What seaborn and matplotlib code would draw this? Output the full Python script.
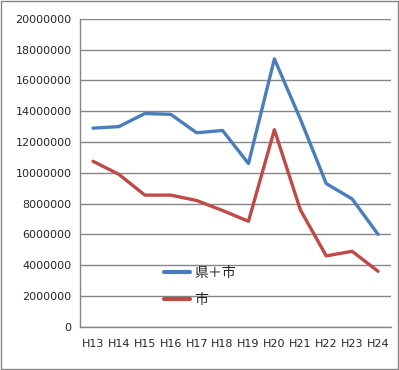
import pandas as pd
import matplotlib
matplotlib.use("Agg")
import matplotlib.pyplot as plt
import seaborn as sns

# 年度
years = ["H13", "H14", "H15", "H16", "H17", "H18", "H19", "H20", "H21", "H22", "H23", "H24"]
# 県＋市
pref_city = [12900000, 13000000, 13850000, 13800000, 12600000, 12750000, 10600000,
             17400000, 13500000, 9300000, 8300000, 6000000]
# 市
city = [10750000, 9900000, 8550000, 8550000, 8200000, 7550000, 6850000,
        12800000, 7600000, 4600000, 4900000, 3600000]

df = pd.DataFrame({
    "year": years * 2,
    "value": pref_city + city,
    "series": ["県＋市"] * len(years) + ["市"] * len(years),
})
df["x"] = df["year"].map({y: i for i, y in enumerate(years)})

sns.set_style("white")
plt.rcParams["font.family"] = ["Noto Sans CJK JP", "DejaVu Sans"]

fig = plt.figure(figsize=(3.99, 3.70), dpi=100)
ax = fig.add_axes([0.2005, 0.117, 0.7795, 0.832])

palette = {"県＋市": "#4A7EBB", "市": "#BE4B48"}
sns.lineplot(data=df, x="x", y="value", hue="series", palette=palette,
             linewidth=2.4, ax=ax, legend=True)

ax.set_xlim(-0.5, len(years) - 0.5)
ax.set_ylim(0, 20000000)
ax.set_yticks(range(0, 20000001, 2000000))
ax.set_yticklabels([str(v) for v in range(0, 20000001, 2000000)],
                   family="DejaVu Sans", fontsize=8)
ax.set_xticks(range(len(years)))
ax.set_xticklabels(years, family="DejaVu Sans", fontsize=8)
ax.set_xticks([i - 0.5 for i in range(len(years) + 1)], minor=True)
ax.tick_params(axis="x", which="major", length=0, pad=9)
ax.tick_params(axis="x", which="minor", length=4, color="#868686", width=1)
ax.tick_params(axis="y", length=4, color="#868686", width=1, pad=2)
ax.set_xlabel("")
ax.set_ylabel("")

ax.grid(axis="y", color="#868686", linewidth=1)
for side in ["top", "right"]:
    ax.spines[side].set_visible(False)
for side in ["left", "bottom"]:
    ax.spines[side].set_color("#868686")
    ax.spines[side].set_linewidth(1)

leg = ax.legend(loc="upper left", bbox_to_anchor=(0.252, 0.215), frameon=False,
                fontsize=10, handlelength=1.9, handletextpad=0.3, labelspacing=0.95,
                borderaxespad=0)
for line in leg.get_lines():
    line.set_linewidth(3)

fig.patches.append(plt.Rectangle((0.0015, 0.0015), 0.997, 0.997, transform=fig.transFigure,
                                 fill=False, edgecolor="#868686", linewidth=1))

fig.savefig("out.png", dpi=100)
